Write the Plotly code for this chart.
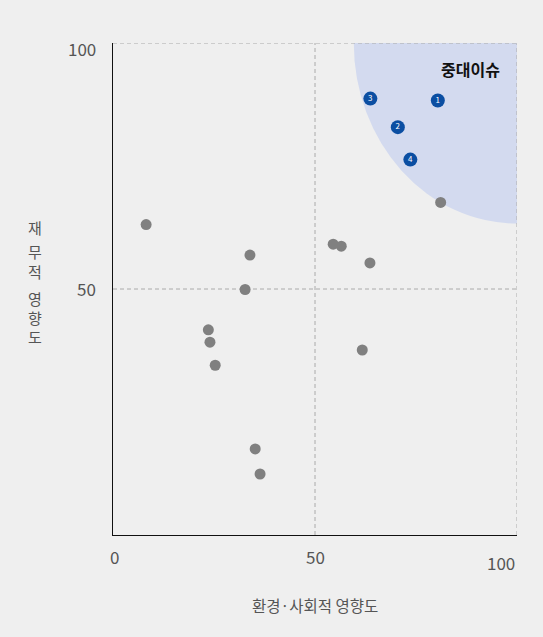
import plotly.graph_objects as go

# 일반 이슈 (회색)
gray_x = [8.2, 33.9, 32.7, 23.6, 24.0, 25.3, 35.2, 36.4, 54.5, 56.5, 63.6, 61.7, 81.1]
gray_y = [63.1, 56.9, 49.9, 41.7, 39.2, 34.5, 17.5, 12.4, 59.1, 58.7, 55.3, 37.6, 67.6]

# 중대 이슈 (파란색, 번호)
key_x = [80.4, 70.5, 63.7, 73.6]
key_y = [88.3, 82.9, 88.7, 76.3]
key_labels = ["1", "2", "3", "4"]

x_tick_vals = [0, 50, 100]
x_tick_text = ["0", "50", "100"]
y_tick_vals = [100, 50]
y_tick_text = ["100", "50"]

# 세로 축 제목 (한 글자씩)
y_title_chars = ["재", "무", "적", "영", "향", "도"]
y_title_pos = [62.4, 57.6, 53.6, 48.1, 44.2, 40.3]

FONT = "Noto Sans CJK KR"
TXT = "#555555"
DASH = dict(color="#aaaaaa", width=1, dash="4px,3px")

fig = go.Figure()

fig.add_trace(go.Scatter(
    x=gray_x, y=gray_y,
    mode="markers",
    marker=dict(size=11, color="#808080"),
    showlegend=False,
    hoverinfo="skip",
))

fig.add_trace(go.Scatter(
    x=key_x, y=key_y,
    mode="markers+text",
    text=key_labels,
    textposition="middle center",
    textfont=dict(family=FONT, size=8, color="white"),
    marker=dict(size=14, color="#0b4ea2"),
    showlegend=False,
    hoverinfo="skip",
))

shapes = [
    # 중대이슈 영역 (우상단 타원)
    dict(type="circle", xref="x", yref="y", x0=59.6, x1=140.4, y0=63.3, y1=136.7,
         fillcolor="#d3daef", line=dict(width=0), layer="below"),
    # 점선 (중앙/상단/우측)
    dict(type="line", xref="x", yref="y", x0=50, x1=50, y0=0, y1=100, line=DASH, layer="below"),
    dict(type="line", xref="x", yref="y", x0=0, x1=100, y0=50, y1=50, line=DASH, layer="below"),
    dict(type="line", xref="x", yref="y", x0=0, x1=100, y0=100, y1=100, line=DASH, layer="below"),
    dict(type="line", xref="x", yref="y", x0=100, x1=100, y0=0, y1=100, line=DASH, layer="below"),
]

annotations = [
    dict(x=96.3, y=94.7, xref="x", yref="y", text="<b>중대이슈</b>", showarrow=False,
         xanchor="right", yanchor="middle", font=dict(family=FONT, size=16, color="#111111")),
    dict(x=50, y=-0.142, xref="x", yref="paper", text="환경·사회적 영향도", showarrow=False,
         xanchor="center", yanchor="middle", font=dict(family=FONT, size=15.5, color=TXT)),
]

for ch, yv in zip(y_title_chars, y_title_pos):
    annotations.append(dict(x=-0.193, y=yv, xref="paper", yref="y", text=ch, showarrow=False,
                            xanchor="center", yanchor="middle",
                            font=dict(family=FONT, size=15, color=TXT)))

# x 눈금 라벨
x_anchor = ["center", "center", "right"]
x_shift = [1, 0, 0]
x_yshift = [0, 0, -6]
for v, t, a, s, ys in zip(x_tick_vals, x_tick_text, x_anchor, x_shift, x_yshift):
    annotations.append(dict(x=v, y=-0.043, xref="x", yref="paper", text=t, showarrow=False,
                            xanchor=a, yanchor="middle", xshift=s, yshift=ys,
                            font=dict(family=FONT, size=17, color=TXT)))

# y 눈금 라벨
y_yshift = [-5, 1]
for v, t, ys in zip(y_tick_vals, y_tick_text, y_yshift):
    annotations.append(dict(x=-0.036, y=v, xref="paper", yref="y", text=t, showarrow=False,
                            xanchor="right", yanchor="middle", yshift=ys,
                            font=dict(family=FONT, size=17, color=TXT)))

fig.update_layout(
    width=543, height=637,
    margin=dict(l=113, r=26, t=43, b=102),
    paper_bgcolor="#efefef",
    plot_bgcolor="#efefef",
    font=dict(family=FONT, color=TXT),
    xaxis=dict(range=[0, 100], showgrid=False, zeroline=False, showticklabels=False,
               ticks="", showline=True, linecolor="#111111", linewidth=1.2, fixedrange=True),
    yaxis=dict(range=[0, 100], showgrid=False, zeroline=False, showticklabels=False,
               ticks="", showline=True, linecolor="#111111", linewidth=1.2, fixedrange=True),
    shapes=shapes,
    annotations=annotations,
)

fig.write_html("out.html", config={"displayModeBar": False},
               post_script="document.body.style.margin='0';document.body.style.background='#efefef';")
